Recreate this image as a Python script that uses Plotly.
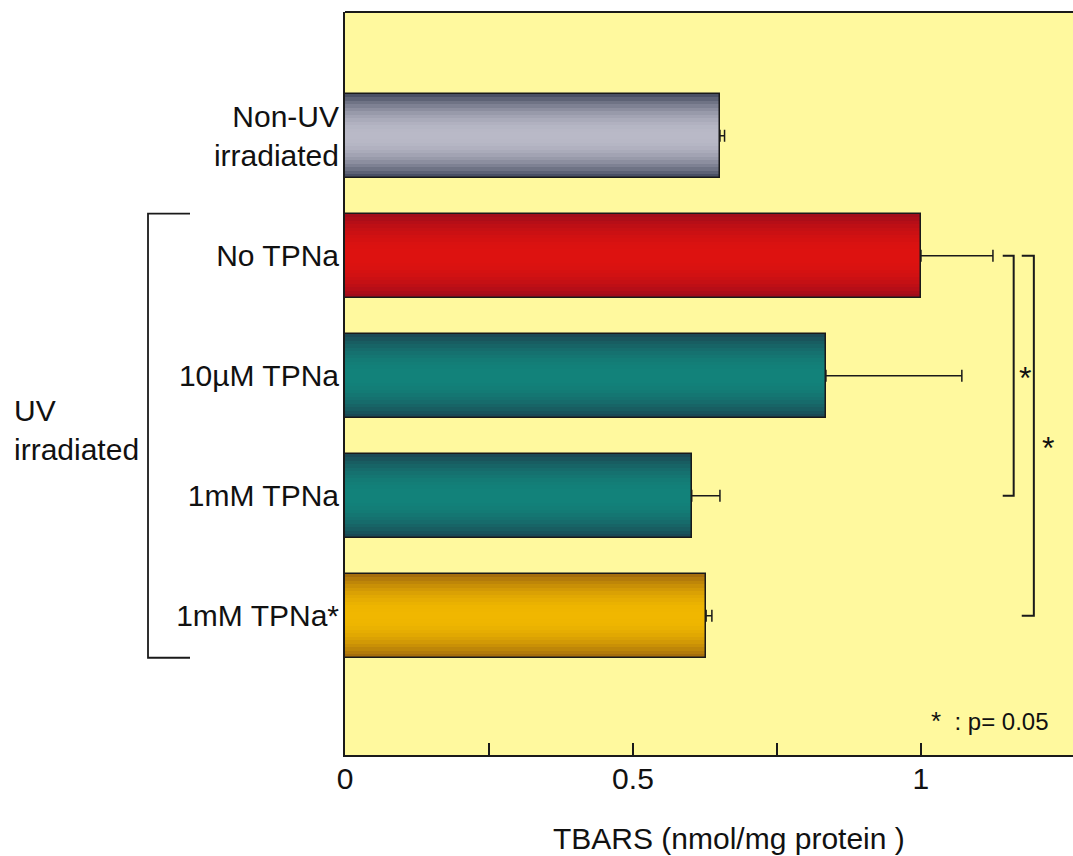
import plotly.graph_objects as go

# ---------------- data ----------------
categories = ["Non-UV<br>irradiated", "No TPNa", "10µM TPNa", "1mM TPNa", "1mM TPNa*"]
tbars = [0.651, 1.000, 0.835, 0.602, 0.627]
sem = [0.008, 0.125, 0.236, 0.049, 0.010]
x_tickvals = [0, 0.25, 0.5, 0.75, 1]
x_ticktext = ["0", "", "0.5", "", "1"]
group_label = "UV<br>irradiated"
x_title = "TBARS (nmol/mg protein )"
sig_note = "<span style='font-size:26px'>*</span>  : p= 0.05"
# significance comparisons (category index pairs)
sig_pairs = [(1, 3), (1, 4)]

# ---------------- styles ----------------
edge_colors = ["#4a5064", "#a20c1a", "#1b4a55", "#1b4a55", "#a66e0c"]
center_colors = ["#b9b9c7", "#dd1210", "#12827a", "#12827a", "#f0b700"]
BAR_W = 0.7
N_LAYERS = 12
FONT = "Liberation Sans, Arial, sans-serif"


def hex2rgb(h):
    h = h.lstrip("#")
    return [int(h[i:i + 2], 16) for i in (0, 2, 4)]


def mix(c1, c2, t):
    a, b = hex2rgb(c1), hex2rgb(c2)
    return "rgb({},{},{})".format(*[round(a[i] + (b[i] - a[i]) * t) for i in range(3)])


ypos = list(range(len(categories)))

fig = go.Figure()

# gradient layers (outer = dark edge, inner = light centre)
for k in range(N_LAYERS):
    t = k / (N_LAYERS - 1)
    f = 1 - (1 - t) ** 2
    w = BAR_W * (1 - k / N_LAYERS)
    fig.add_trace(go.Bar(
        x=tbars, y=ypos, orientation="h", width=w,
        marker=dict(color=[mix(e, c, f) for e, c in zip(edge_colors, center_colors)],
                    line=dict(width=0)),
        hoverinfo="skip", showlegend=False,
    ))

# outline + error bars on top
fig.add_trace(go.Bar(
    x=tbars, y=ypos, orientation="h", width=BAR_W,
    marker=dict(color="rgba(0,0,0,0)", line=dict(color="#1a1a1a", width=1.5)),
    error_x=dict(type="data", array=sem, arrayminus=[0] * len(sem), symmetric=False,
                 color="#1a1a1a", thickness=1.5, width=6),
    showlegend=False,
))

shapes = []
# top border of the plot area
shapes.append(dict(type="line", xref="paper", yref="paper", x0=0, x1=1, y0=1, y1=1,
                   line=dict(color="#1a1a1a", width=2)))

# left bracket grouping UV irradiated categories
bx0, bx1 = -0.2706, -0.2129
ytop, ybot = 1 - BAR_W / 2, 4 + BAR_W / 2
shapes.append(dict(type="path", xref="paper", yref="y",
                   path=f"M {bx1},{ytop} L {bx0},{ytop} L {bx0},{ybot} L {bx1},{ybot}",
                   line=dict(color="#1a1a1a", width=1.8)))

# significance brackets (data coords)
sig_x = [(1.142, 1.161), (1.175, 1.196)]
star_pos = [(1.180, 2.02), (1.221, 2.6)]
for (a, b), (xs, xv) in zip(sig_pairs, sig_x):
    shapes.append(dict(type="path", xref="x", yref="y",
                       path=f"M {xs},{a} L {xv},{a} L {xv},{b} L {xs},{b}",
                       line=dict(color="#1a1a1a", width=2)))

annotations = []
for (sx, sy) in star_pos:
    annotations.append(dict(x=sx, y=sy, xref="x", yref="y", text="*", showarrow=False,
                            font=dict(size=32, color="#111", family=FONT)))

annotations.append(dict(x=-0.4574, y=2.45, xref="paper", yref="y", text=group_label,
                        showarrow=False, xanchor="left", yanchor="middle", align="left",
                        font=dict(size=30, color="#111", family=FONT)))

annotations.append(dict(x=1.12, y=4.88, xref="x", yref="y", text=sig_note,
                        showarrow=False, xanchor="center", yanchor="middle",
                        font=dict(size=24, color="#111", family=FONT)))

annotations.append(dict(x=0.667, y=-0.112, xref="x", yref="paper", text=x_title,
                        showarrow=False, xanchor="center", yanchor="middle",
                        font=dict(size=30, color="#111", family=FONT)))

fig.update_layout(
    width=1073, height=856,
    margin=dict(l=345, r=0, t=12, b=101),
    paper_bgcolor="white",
    plot_bgcolor="#fff99e",
    barmode="overlay",
    bargap=0,
    shapes=shapes,
    annotations=annotations,
    font=dict(family=FONT, color="#111"),
)

fig.update_xaxes(
    range=[0, 1.264], tickvals=x_tickvals, ticktext=x_ticktext,
    ticks="inside", ticklen=12, tickwidth=1.5, tickcolor="#1a1a1a",
    showline=True, linecolor="#1a1a1a", linewidth=2,
    showgrid=False, zeroline=False,
    tickfont=dict(size=30, family=FONT, color="#111"),
    ticklabelstandoff=-4,
)

fig.update_yaxes(
    range=[5.16, -1.03], tickvals=ypos, ticktext=categories,
    ticks="", showline=True, linecolor="#1a1a1a", linewidth=2,
    showgrid=False, zeroline=False,
    tickfont=dict(size=30, family=FONT, color="#111"),
    ticklabelstandoff=-2,
)

fig.write_html("out.html")
